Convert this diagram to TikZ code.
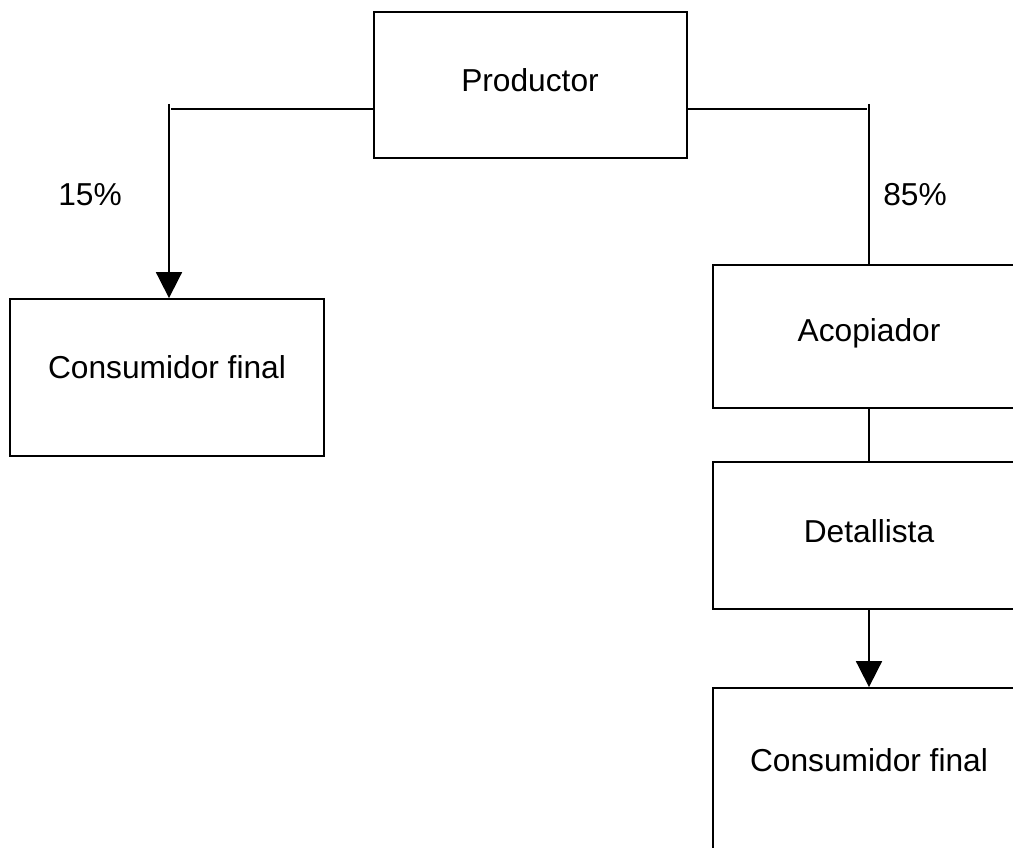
\documentclass[tikz,border=0pt]{standalone}
\usepackage{fontspec}
\setmainfont{Liberation Sans}
\usetikzlibrary{arrows.meta}
\begin{document}
\begin{tikzpicture}[x=1pt,y=-1pt,
  line width=1.8pt,
  box/.style={draw=black, line width=1.8pt, rectangle, inner sep=0pt},
  lbl/.style={font=\fontsize{31.7}{38}\selectfont, inner sep=0pt},
  arr/.style={-{Triangle[width=26pt,length=26pt]}}]
  \useasboundingbox (0,0) rectangle (1013,848);
  \clip (0,0) rectangle (1013,848);
  % boxes
  \node[box, minimum width=313pt, minimum height=146pt] (prod) at (530.5,85) {};
  \node[box, minimum width=314pt, minimum height=157pt] (cfl) at (167,377.5) {};
  \node[box, minimum width=312pt, minimum height=143pt] (aco) at (869,336.5) {};
  \node[box, minimum width=312pt, minimum height=147pt] (det) at (869,535.5) {};
  \node[box, minimum width=312pt, minimum height=180pt] (cfr) at (869,778) {};
  % box texts
  \node[lbl] (tprod) at (530,80) {Productor};
  \node[lbl] (tcfl) at (167,367) {Consumidor final};
  \node[lbl] (taco) at (869,333) {Acopiador};
  \node[lbl] (tdet) at (869,531) {Detallista};
  \node[lbl] (tcfr) at (869,760) {Consumidor final};
  % percentages
  \node[lbl] (p15) at (90,195) {15\%};
  \node[lbl] (p85) at (915,195) {85\%};
  % connectors
  \coordinate (lt) at (169,104);
  \coordinate (rt) at (869,104);
  \draw (prod.west |- 0,109) -- (171,109);
  \draw[arr] (lt) -- (lt |- cfl.north);
  \draw (prod.east |- 0,109) -- (867,109);
  \draw (rt) -- (aco.north);
  \draw (aco.south) -- (det.north);
  \draw[arr] (det.south) -- (cfr.north);
\end{tikzpicture}
\end{document}
